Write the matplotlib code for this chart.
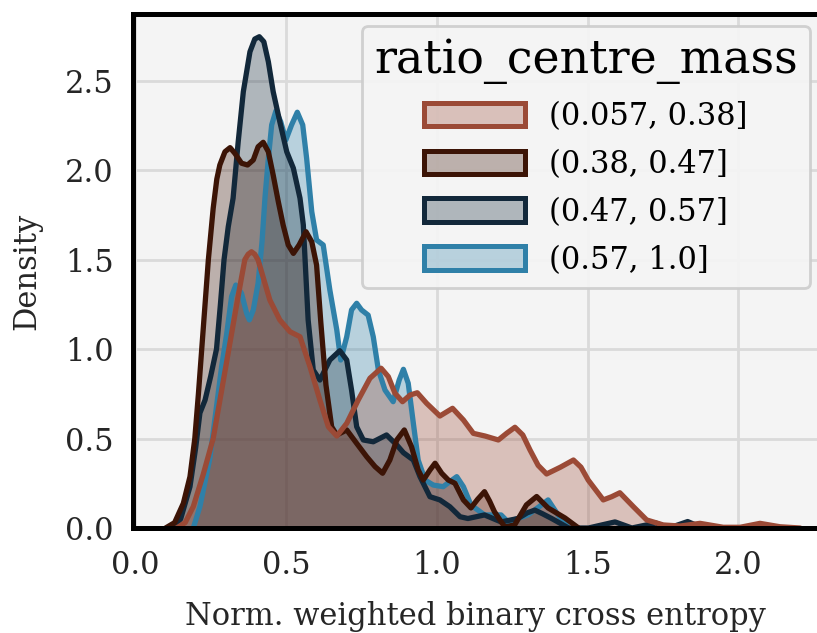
import matplotlib
matplotlib.use("Agg")
import matplotlib.pyplot as plt
from matplotlib.patches import Patch

# Density curves (x = loss, y = density)
labels = ["(0.057, 0.38]", "(0.38, 0.47]", "(0.47, 0.57]", "(0.57, 1.0]"]
colors = ["#9b4a36", "#3c1406", "#12283a", "#2f80a8"]

x_low = [0.137, 0.165, 0.192, 0.225, 0.258, 0.284, 0.310, 0.336, 0.352, 0.363,
         0.374, 0.385, 0.396, 0.407, 0.424, 0.446, 0.479, 0.513, 0.546, 0.579,
         0.612, 0.640, 0.668, 0.701, 0.739, 0.778, 0.815, 0.839, 0.861, 0.886,
         0.911, 0.935, 0.966, 1.010, 1.052, 1.088, 1.121, 1.160, 1.204, 1.232,
         1.259, 1.285, 1.309, 1.336, 1.364, 1.410, 1.453, 1.478, 1.502, 1.552,
         1.580, 1.607, 1.652, 1.696, 1.751, 1.807, 1.873, 1.950, 2.006, 2.072,
         2.138, 2.205]
y_low = [0.0, 0.030, 0.120, 0.300, 0.500, 0.750, 1.000, 1.250, 1.400, 1.500,
         1.530, 1.544, 1.530, 1.498, 1.400, 1.274, 1.163, 1.097, 1.069, 0.902,
         0.715, 0.566, 0.514, 0.585, 0.715, 0.837, 0.893, 0.846, 0.753, 0.706,
         0.743, 0.756, 0.697, 0.626, 0.669, 0.604, 0.529, 0.514, 0.492, 0.530,
         0.563, 0.520, 0.436, 0.350, 0.302, 0.340, 0.380, 0.340, 0.268, 0.157,
         0.175, 0.197, 0.119, 0.045, 0.017, 0.011, 0.026, 0.004, 0.004, 0.026,
         0.007, 0.0]

x_mid1 = [0.100, 0.130, 0.159, 0.181, 0.197, 0.209, 0.220, 0.231, 0.242, 0.258,
          0.270, 0.280, 0.297, 0.314, 0.330, 0.352, 0.372, 0.391, 0.407, 0.424,
          0.441, 0.457, 0.474, 0.490, 0.507, 0.524, 0.543, 0.566, 0.585, 0.601,
          0.615, 0.632, 0.651, 0.668, 0.701, 0.734, 0.767, 0.795, 0.820, 0.844,
          0.867, 0.892, 0.916, 0.938, 0.955, 0.977, 0.994, 1.016, 1.038, 1.060,
          1.088, 1.113, 1.135, 1.158, 1.175, 1.191, 1.225, 1.258, 1.297, 1.331,
          1.369, 1.425, 1.470]
y_mid1 = [0.0, 0.030, 0.138, 0.287, 0.500, 0.750, 1.000, 1.250, 1.500, 1.787,
          1.950, 2.029, 2.103, 2.126, 2.094, 2.039, 2.029, 2.057, 2.131, 2.156,
          2.103, 1.973, 1.824, 1.694, 1.582, 1.535, 1.582, 1.656, 1.600, 1.470,
          1.150, 0.800, 0.566, 0.520, 0.548, 0.473, 0.399, 0.343, 0.306, 0.380,
          0.492, 0.548, 0.454, 0.324, 0.268, 0.324, 0.362, 0.306, 0.268, 0.250,
          0.157, 0.112, 0.160, 0.203, 0.150, 0.091, 0.006, 0.017, 0.129, 0.176,
          0.112, 0.056, 0.0]

x_mid2 = [0.120, 0.150, 0.181, 0.200, 0.214, 0.231, 0.250, 0.269, 0.282, 0.294,
          0.308, 0.324, 0.341, 0.358, 0.380, 0.396, 0.411, 0.426, 0.441, 0.457,
          0.479, 0.502, 0.524, 0.546, 0.557, 0.573, 0.590, 0.612, 0.645, 0.678,
          0.701, 0.717, 0.734, 0.756, 0.789, 0.833, 0.867, 0.889, 0.922, 0.944,
          0.977, 1.010, 1.043, 1.077, 1.103, 1.158, 1.213, 1.269, 1.300, 1.325,
          1.350, 1.381, 1.437, 1.503, 1.591, 1.647, 1.726, 1.770, 1.832, 1.882]
y_mid2 = [0.0, 0.050, 0.231, 0.450, 0.643, 0.715, 0.850, 1.000, 1.250, 1.500,
          1.684, 1.843, 2.159, 2.439, 2.662, 2.733, 2.746, 2.718, 2.606, 2.439,
          2.271, 2.103, 2.011, 1.843, 1.694, 1.163, 0.883, 0.827, 0.939, 0.991,
          0.939, 0.771, 0.566, 0.492, 0.482, 0.520, 0.464, 0.421, 0.380, 0.287,
          0.175, 0.157, 0.119, 0.063, 0.053, 0.073, 0.034, 0.053, 0.085, 0.100,
          0.080, 0.053, 0.0, 0.0, 0.034, 0.0, 0.028, 0.0, 0.036, 0.0]

x_high = [0.192, 0.214, 0.247, 0.269, 0.286, 0.303, 0.319, 0.333, 0.352, 0.369,
          0.378, 0.391, 0.407, 0.420, 0.430, 0.441, 0.452, 0.466, 0.482, 0.499,
          0.518, 0.537, 0.555, 0.568, 0.585, 0.601, 0.623, 0.645, 0.668, 0.681,
          0.701, 0.717, 0.734, 0.750, 0.772, 0.789, 0.806, 0.828, 0.855, 0.875,
          0.889, 0.905, 0.922, 0.938, 0.961, 0.988, 1.021, 1.043, 1.066, 1.088,
          1.113, 1.158, 1.213, 1.236, 1.302, 1.340, 1.369, 1.402, 1.437]
y_high = [0.0, 0.120, 0.390, 0.678, 0.902, 1.088, 1.293, 1.358, 1.312, 1.200,
          1.163, 1.219, 1.368, 1.600, 1.850, 2.066, 2.253, 2.331, 2.271, 2.169,
          2.253, 2.324, 2.253, 2.066, 1.768, 1.610, 1.582, 1.330, 1.107, 0.939,
          1.069, 1.219, 1.256, 1.219, 1.190, 1.069, 0.883, 0.771, 0.706, 0.827,
          0.887, 0.809, 0.585, 0.380, 0.268, 0.240, 0.231, 0.259, 0.287, 0.231,
          0.129, 0.073, 0.073, 0.034, 0.073, 0.120, 0.157, 0.073, 0.0]

xs = [x_low, x_mid1, x_mid2, x_high]
ys = [y_low, y_mid1, y_mid2, y_high]

plt.rcParams["font.family"] = "DejaVu Serif"
plt.rcParams["font.size"] = 22

fig = plt.figure(figsize=(8.17, 6.33), dpi=100)
ax = fig.add_axes([133 / 817, 105 / 633, 684 / 817, 514 / 633])
ax.set_facecolor("#f4f4f4")
ax.grid(True, color="#dadada", linewidth=2.0)
ax.set_axisbelow(True)

# seaborn draws the first hue level last, so it ends up on top
for i in reversed(range(4)):
    ax.fill_between(xs[i], ys[i], 0, facecolor=colors[i], alpha=0.3, linewidth=0)
    ax.plot(xs[i], ys[i], color=colors[i], linewidth=3.8,
            solid_joinstyle="round", solid_capstyle="round")

ax.set_xlim(-0.008, 2.261)
ax.set_ylim(0, 2.873)
ax.set_xticks([0.0, 0.5, 1.0, 1.5, 2.0])
ax.set_yticks([0.0, 0.5, 1.0, 1.5, 2.0, 2.5])
ax.tick_params(length=0, labelsize=22, colors="#262626")
ax.tick_params(axis="x", pad=16)
ax.tick_params(axis="y", pad=14)
for side in ["left", "top", "bottom"]:
    ax.spines[side].set_color("black")
    ax.spines[side].set_linewidth(3.6)
ax.spines["right"].set_visible(False)

ax.set_xlabel("Norm. weighted binary cross entropy", labelpad=14, color="#262626")
ax.set_ylabel("Density", labelpad=16, color="#262626")

handles = [Patch(facecolor=matplotlib.colors.to_rgba(c, 0.3), edgecolor=c, linewidth=3.6)
           for c in colors]
leg = ax.legend(handles, labels, title="ratio_centre_mass", loc="upper right",
                bbox_to_anchor=(0.9898, 0.977), borderaxespad=0,
                fontsize=22, title_fontsize=33,
                handlelength=3.3, handleheight=0.8, handletextpad=0.8,
                labelspacing=0.55, borderpad=0.4, fancybox=True,
                facecolor="#f5f5f5", edgecolor="#cccccc", framealpha=0.9)
leg.get_frame().set_linewidth(2.0)

fig.savefig("out.png", dpi=100)
